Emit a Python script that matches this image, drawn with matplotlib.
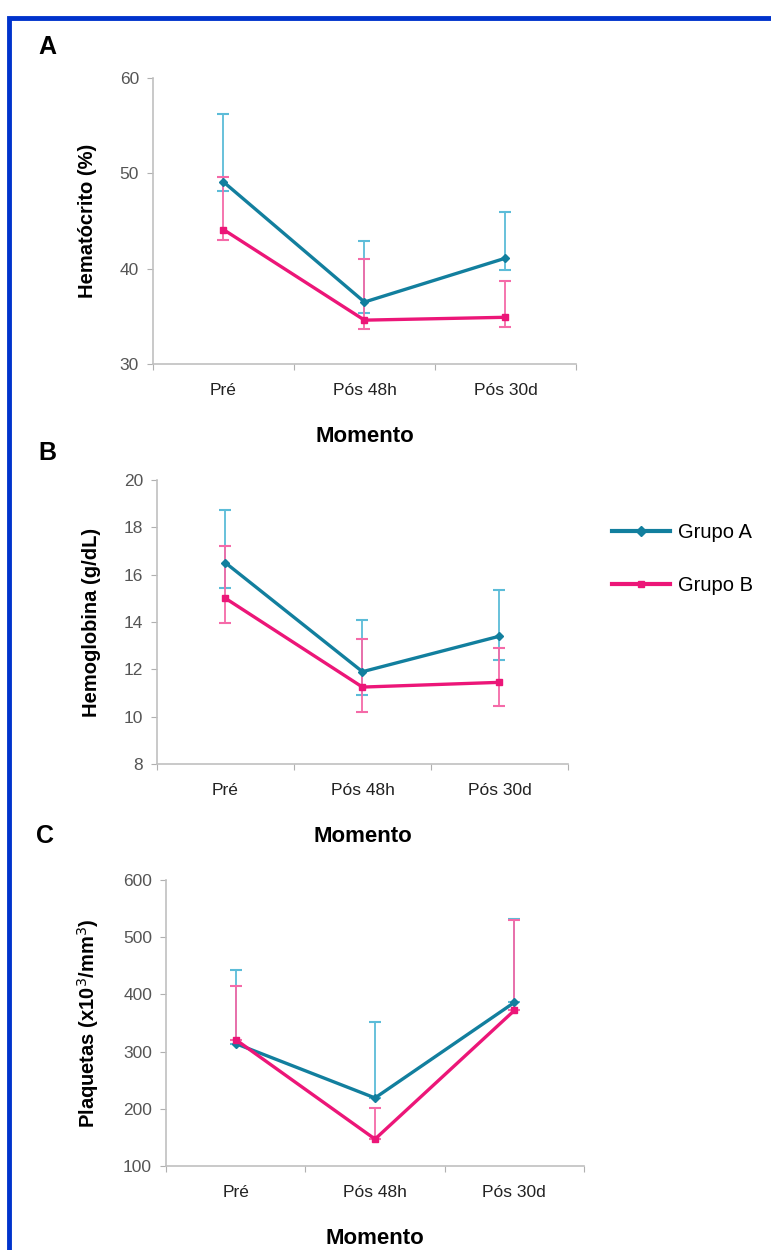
import numpy as np
import matplotlib.pyplot as plt
from matplotlib.patches import Rectangle
from matplotlib.lines import Line2D

plt.rcParams['font.family'] = ['Liberation Sans', 'DejaVu Sans']

momentos = ['Pré', 'Pós 48h', 'Pós 30d']
grupos = ['Grupo A', 'Grupo B']

# Hematocrito (%)
ht_a = [49.1, 36.5, 41.1]
ht_a_up = [56.2, 42.9, 45.9]
ht_a_lo = [48.1, 35.4, 39.9]
ht_b = [44.1, 34.6, 34.9]
ht_b_up = [49.6, 41.0, 38.7]
ht_b_lo = [43.0, 33.7, 33.9]

# Hemoglobina (g/dL)
hb_a = [16.5, 11.9, 13.4]
hb_a_up = [18.75, 14.1, 15.35]
hb_a_lo = [15.45, 10.9, 12.4]
hb_b = [15.0, 11.25, 11.45]
hb_b_up = [17.2, 13.3, 12.9]
hb_b_lo = [13.95, 10.2, 10.45]

# Plaquetas (x10^3/mm^3) - so barra superior
pl_a = [314, 219, 386]
pl_a_up = [443, 352, 531]
pl_b = [321, 147, 372]
pl_b_up = [415, 201, 530]

cor_a = '#127f9e'
cor_a_err = '#5cbcd8'
cor_b = '#ec1678'
cor_b_err = '#f56aa8'

fig = plt.figure(figsize=(7.71, 12.5), dpi=100)

def painel(rect, va, va_up, va_lo, vb, vb_up, vb_lo, ylim, yticks, ylabel, letra, letra_pos):
    ax = fig.add_axes(rect)
    x = np.arange(3) + 0.5
    va = np.array(va); vb = np.array(vb)
    lo_a = va - np.array(va_lo) if va_lo is not None else np.zeros(3)
    lo_b = vb - np.array(vb_lo) if vb_lo is not None else np.zeros(3)
    ax.errorbar(x, va, yerr=[lo_a, np.array(va_up) - va], fmt='none', ecolor=cor_a_err,
                elinewidth=1.3, capsize=4, capthick=1.5, zorder=2)
    ax.errorbar(x, vb, yerr=[lo_b, np.array(vb_up) - vb], fmt='none', ecolor=cor_b_err,
                elinewidth=1.3, capsize=4, capthick=1.5, zorder=2)
    ax.plot(x, va, color=cor_a, lw=2.4, marker='D', ms=4, zorder=3)
    ax.plot(x, vb, color=cor_b, lw=2.4, marker='s', ms=4, zorder=3)
    ax.set_xlim(0, 3)
    ax.set_ylim(*ylim)
    ax.set_yticks(yticks)
    ax.set_xticks([0, 1, 2, 3])
    ax.set_xticklabels([])
    ax.set_xticks(x, minor=True)
    ax.set_xticklabels(momentos, minor=True)
    ax.tick_params(axis='x', which='minor', length=0, pad=14, labelsize=12.5, labelcolor='#222222')
    ax.tick_params(axis='x', which='major', length=4, color='#b0b0b0')
    ax.tick_params(axis='y', length=4, color='#b0b0b0', labelsize=12.5, labelcolor='#555555', pad=6)
    for s in ['top', 'right']:
        ax.spines[s].set_visible(False)
    for s in ['left', 'bottom']:
        ax.spines[s].set_color('#c0c0c0')
        ax.spines[s].set_linewidth(1.2)
    ax.set_ylabel(ylabel, fontsize=14.5, fontweight='bold', labelpad=16)
    ax.set_xlabel('Momento', fontsize=16, fontweight='bold', labelpad=20)
    fig.text(letra_pos[0], letra_pos[1], letra, fontsize=18, fontweight='bold', ha='left', va='center')
    return ax

painel([0.1984, 0.7088, 0.5486, 0.2288], ht_a, ht_a_up, ht_a_lo, ht_b, ht_b_up, ht_b_lo,
       (30, 60), [30, 40, 50, 60], 'Hematócrito (%)', 'A', (0.050, 0.962))
painel([0.2036, 0.3888, 0.533, 0.2272], hb_a, hb_a_up, hb_a_lo, hb_b, hb_b_up, hb_b_lo,
       (8, 20), [8, 10, 12, 14, 16, 18, 20], 'Hemoglobina (g/dL)', 'B', (0.050, 0.638))
painel([0.2153, 0.0672, 0.5422, 0.2288], pl_a, pl_a_up, None, pl_b, pl_b_up, None,
       (100, 600), [100, 200, 300, 400, 500, 600], 'Plaquetas (x10$^3$/mm$^3$)', 'C', (0.047, 0.331))

# legenda
handles = [Line2D([], [], color=cor_a, lw=3, marker='D', ms=5),
           Line2D([], [], color=cor_b, lw=3, marker='s', ms=5)]
fig.legend(handles, grupos, loc='upper left', bbox_to_anchor=(0.770, 0.596), frameon=False,
           fontsize=14.5, handlelength=2.9, handletextpad=0.4, labelspacing=1.7)

# moldura azul
fig.add_artist(Rectangle((0.0115, -0.1), 1.2, 1.0855, transform=fig.transFigure,
                         fill=False, edgecolor='#0033cc', linewidth=3.5))

fig.savefig('out.png', dpi=100)
